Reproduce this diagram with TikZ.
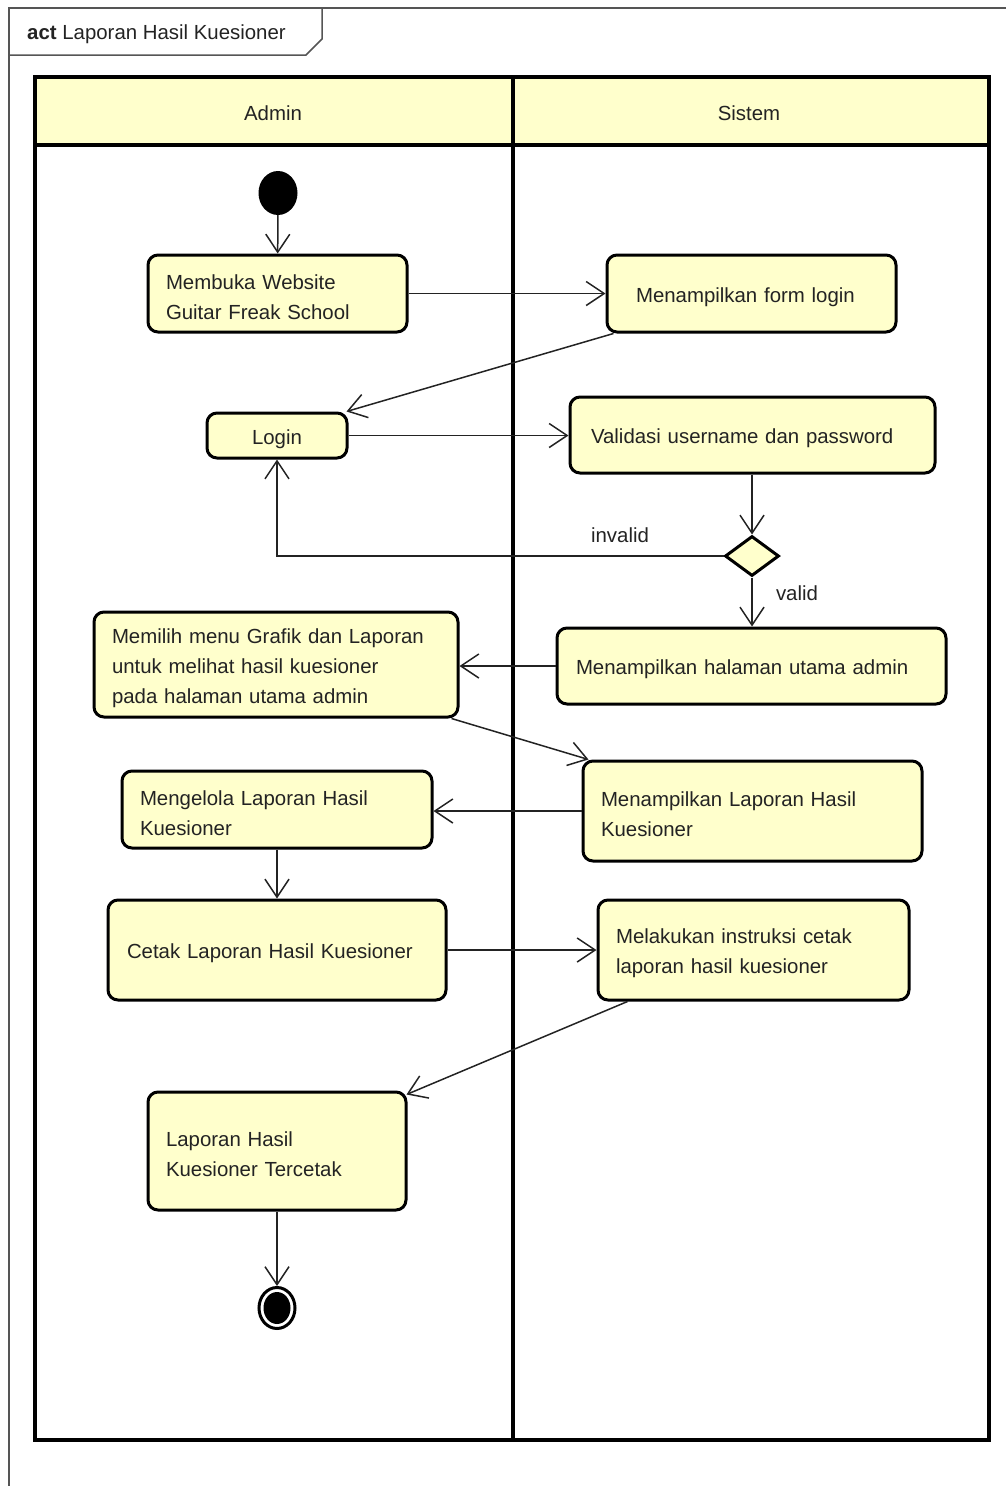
\documentclass[tikz,border=0pt]{standalone}
\usepackage{fontspec}
\setmainfont{Liberation Sans}
\usetikzlibrary{arrows.meta,shapes.geometric,calc}
\definecolor{actfill}{RGB}{255,255,204}
\definecolor{ink}{RGB}{35,35,35}
\definecolor{framegray}{RGB}{85,85,85}

\begin{document}
\begin{tikzpicture}[x=1pt,y=-1pt,
  every node/.style={font=\fontsize{20.4pt}{30pt}\selectfont, text=ink},
  action/.style={draw=black, line width=3pt, fill=actfill, rounded corners=10pt,
    inner xsep=18pt, inner ysep=0pt, align=left,
    execute at begin node={\rule{0pt}{22pt}}},
  flow/.style={line width=1.5pt, draw=ink, -{Straight Barb[length=18pt,width=24pt]}},
  lane/.style={line width=3.5pt, draw=black},
  guard/.style={inner sep=0pt}
]
% page
\useasboundingbox (0,0) rectangle (1006,1486);

% activity frame and its name tab
\draw[line width=1.5pt, draw=framegray] (9,1486) -- (9,8) -- (1006,8);
\draw[line width=1.5pt, draw=framegray] (9,55) -- (306,55) -- (322,39) -- (322,8);
\node[anchor=west, inner sep=0pt] (title) at (27,34) {\textbf{act} Laporan Hasil Kuesioner};

% swimlanes
\fill[actfill] (35,77) rectangle (989,145);
\draw[lane] (35,77) rectangle (989,1440);
\draw[lane] (35,145) -- (989,145);
\draw[lane] (513,77) -- (513,1440);
\node (laneA) at (273,113) {Admin};
\node (laneS) at (749,113) {Sistem};

% initial and final nodes
\node[ellipse, fill=black, minimum width=39pt, minimum height=44pt, inner sep=0pt] (start) at (278,193) {};
\node[ellipse, draw=black, line width=3pt, fill=white, minimum width=36pt, minimum height=41pt, inner sep=0pt] (finish) at (277,1308) {};
\fill[black] (finish.center) ellipse [x radius=13.5pt, y radius=16pt];

% actions
\node[action, text width=223pt, minimum height=77pt] (A1) at (277.5,293.5) {Membuka Website\\Guitar Freak School};
\node[action, minimum height=77pt, inner xsep=29pt, text width=231pt] (S1) at (751.5,293.5) {Menampilkan form login};
\node[action, text width=104pt, minimum height=45pt, align=center] (A2) at (277,435.5) {Login};
\node[action, text width=323pt, minimum height=76pt, inner xsep=21pt] (S2) at (752.5,435) {Validasi username dan password};
\node[diamond, draw=black, line width=3pt, fill=actfill, minimum width=54pt, minimum height=40pt, inner sep=0pt] (D) at (752,556) {};
\node[action, text width=328pt, minimum height=105pt] (A3) at (276,664.5) {Memilih menu Grafik dan Laporan\\untuk melihat hasil kuesioner\\pada halaman utama admin};
\node[action, text width=351pt, minimum height=76pt, inner xsep=19pt] (S3) at (751.5,666) {Menampilkan halaman utama admin};
\node[action, text width=303pt, minimum height=100pt] (S4) at (752.5,811) {Menampilkan Laporan Hasil\\Kuesioner};
\node[action, text width=274pt, minimum height=77pt] (A4) at (277,809.5) {Mengelola Laporan Hasil\\Kuesioner};
\node[action, text width=300pt, minimum height=100pt, inner xsep=19pt] (A5) at (277,950) {Cetak Laporan Hasil Kuesioner};
\node[action, text width=275pt, minimum height=100pt] (S5) at (753.5,950) {Melakukan instruksi cetak\\laporan hasil kuesioner};
\node[action, text width=222pt, minimum height=118pt] (A6) at (277,1151) {Laporan Hasil\\Kuesioner Tercetak};

% guard labels
\node[guard] (gInvalid) at (620,535) {invalid};
\node[guard] (gValid) at (797,593) {valid};

% control flows
\draw[flow] (start) -- (A1);
\draw[flow] (A1.east) -- (A1.east -| S1.west);
\draw[flow] ($(S1.south west)+(8,0)$) -- ($(A2.north east)+(-2,0)$);
\draw[flow] (A2.east) -- (A2.east -| S2.west);
\draw[flow] (S2.south -| D.north) -- (D.north);
\draw[flow] (D.west) -| (A2.south);
\draw[flow] (D.south) -- (D.south |- S3.north);
\draw[flow] (S3.west) -- (S3.west -| A3.east);
\draw[flow] ($(A3.south east)+(-8,0)$) -- ($(S4.north west)+(7,0)$);
\draw[flow] (S4.west) -- (S4.west -| A4.east);
\draw[flow] (A4.south) -- (A4.south |- A5.north);
\draw[flow] (A5.east) -- (A5.east -| S5.west);
\draw[flow] ($(S5.south west)+(31,0)$) -- ($(A6.north east)+(-1,4)$);
\draw[flow] (A6.south) -- (finish.north);
\end{tikzpicture}
\end{document}
